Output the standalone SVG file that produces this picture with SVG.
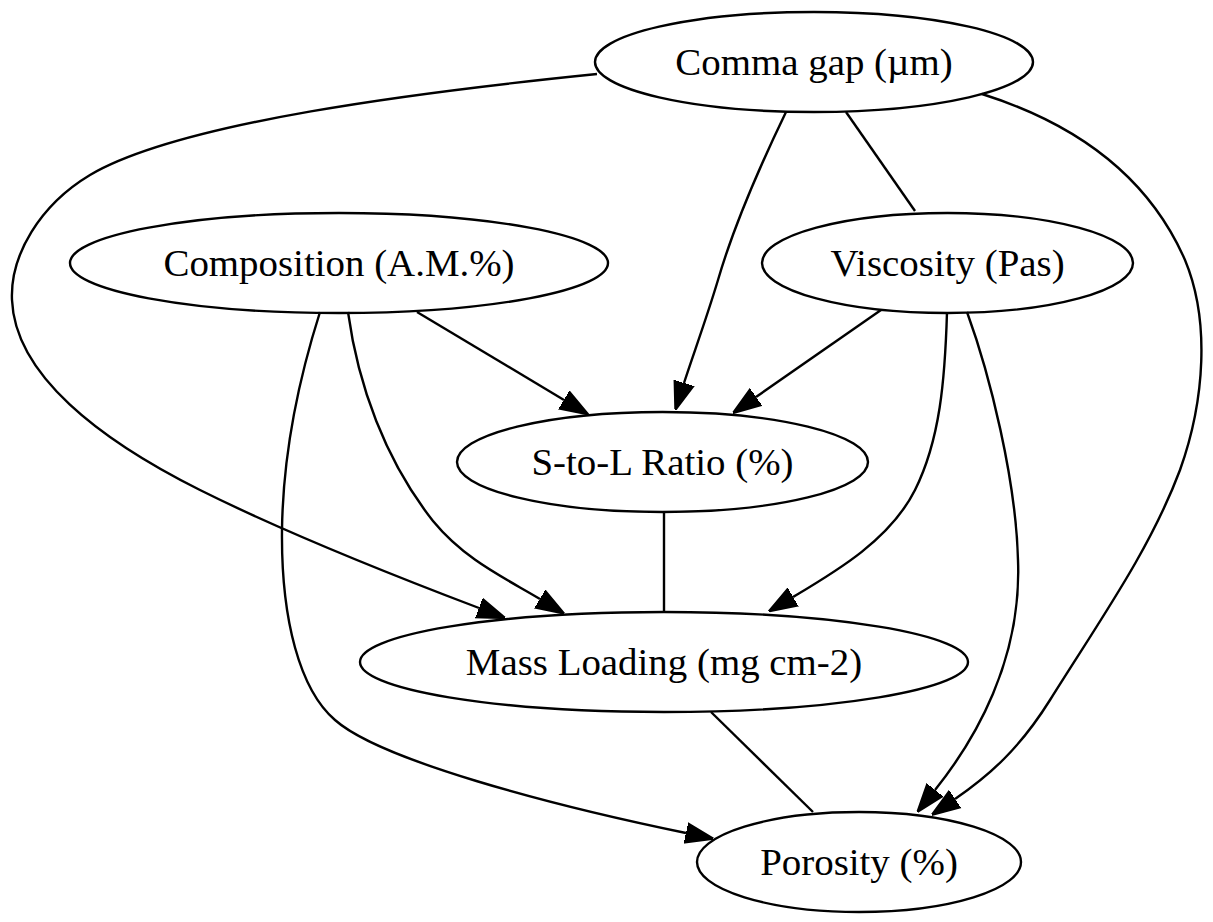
<svg xmlns="http://www.w3.org/2000/svg" width="1213" height="922" viewBox="0 0 1213 922">
<defs>
<style>
.node ellipse{fill:none;stroke:#000;stroke-width:2.4}
.node text{font-family:"Liberation Serif","Times New Roman",serif;font-size:38.9px;fill:#000;text-anchor:middle}
.edge{fill:none;stroke:#000;stroke-width:2.4}
.arr{marker-end:url(#ah)}
</style>
<marker id="ah" viewBox="0 -5 10 10" refX="0" refY="0" markerUnits="userSpaceOnUse" markerWidth="28" markerHeight="28" orient="auto">
<path d="M0,-3.5 L10,0 L0,3.5 Z" fill="#000" stroke="#000" stroke-width="0.8" stroke-linejoin="miter"/>
</marker>
</defs>
<rect width="1213" height="922" fill="#fff"/>
<g id="connectors">
<path class="edge" d="M846,112 L915,211"/>
<path class="edge arr" d="M786,112 C758,170 734,225 718,280 C706,320 693,355 684,383"/>
<path class="edge arr" d="M417,312 L564,400"/>
<path class="edge arr" d="M881,310 L756,397"/>
<path class="edge arr" d="M597,74 C420,92 180,122 90,175 C40,205 10,255 12,300 C15,375 100,440 200,490 C290,535 400,578 479,608"/>
<path class="edge arr" d="M982,94 C1080,125 1150,180 1185,260 C1210,320 1205,400 1180,470 C1150,550 1100,620 1050,700 C1020,748 990,775 955,799"/>
<path class="edge arr" d="M967,312 C990,375 1016,480 1018,560 C1022,660 975,740 935,790"/>
<path class="edge arr" d="M947,312 C945,380 940,440 915,490 C890,540 835,572 793,597"/>
<path class="edge arr" d="M348,312 C358,385 385,460 433,521 C465,560 505,578 540,599"/>
<path class="edge arr" d="M320,312 C300,375 283,450 282,530 C281,620 300,690 335,720 C380,760 550,805 686,833"/>
<path class="edge" d="M664,512 L664,612"/>
<path class="edge" d="M711,712 L813,812"/>
</g>
<g id="node-comma" class="node">
<ellipse cx="814" cy="62" rx="219" ry="50"/>
<text x="814" y="75">Comma gap (µm)</text>
</g>
<g id="node-composition" class="node">
<ellipse cx="339" cy="263" rx="269" ry="50"/>
<text x="339" y="276">Composition (A.M.%)</text>
</g>
<g id="node-viscosity" class="node">
<ellipse cx="947.5" cy="263" rx="185.5" ry="50"/>
<text x="947.5" y="276">Viscosity (Pas)</text>
</g>
<g id="node-stol" class="node">
<ellipse cx="662.5" cy="462" rx="205.5" ry="50"/>
<text x="662.5" y="475">S-to-L Ratio (%)</text>
</g>
<g id="node-massloading" class="node">
<ellipse cx="664" cy="662" rx="304" ry="50"/>
<text x="664" y="675">Mass Loading (mg cm-2)</text>
</g>
<g id="node-porosity" class="node">
<ellipse cx="859" cy="862" rx="162" ry="50"/>
<text x="859" y="875">Porosity (%)</text>
</g>
</svg>
